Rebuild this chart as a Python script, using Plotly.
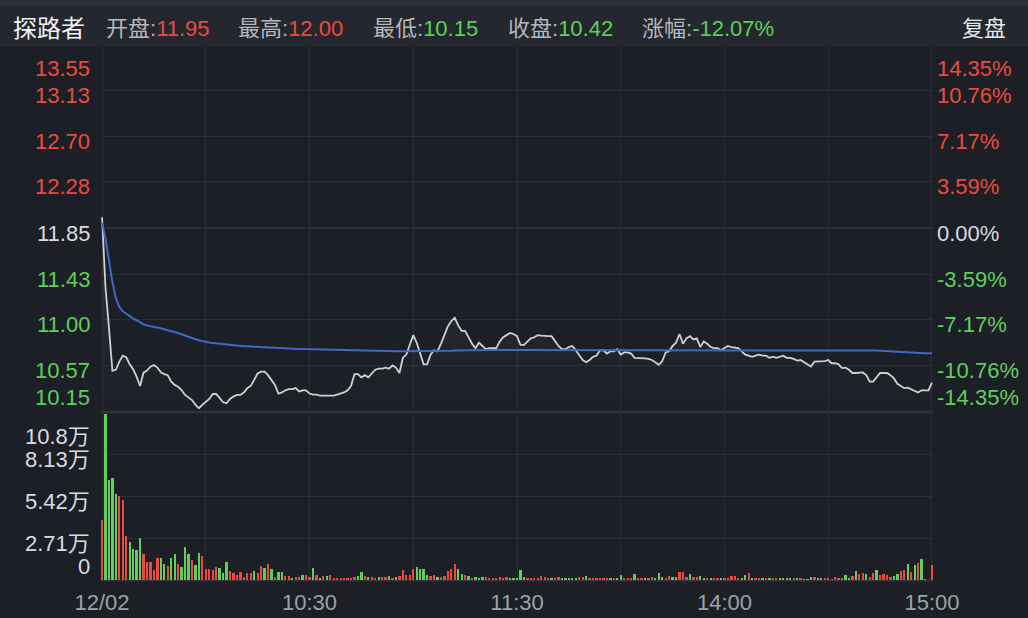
import plotly.graph_objects as go

W, H = 1028, 618

# ---------------- data ----------------
stock_name = "探路者"
prev_close = 11.85
open_p, high_p, low_p, close_p, chg_pct = "11.95", "12.00", "10.15", "10.42", "-12.07%"

price = [
    11.95, 11.30, 10.93, 10.53, 10.54, 10.615, 10.67, 10.655, 10.59, 10.544,
    10.476, 10.39, 10.513, 10.532, 10.569, 10.584, 10.56, 10.516, 10.50, 10.49,
    10.43, 10.40, 10.384, 10.353, 10.307, 10.285, 10.26, 10.218, 10.184, 10.215,
    10.24, 10.27, 10.316, 10.316, 10.28, 10.24, 10.23, 10.27, 10.292, 10.307,
    10.307, 10.329, 10.369, 10.39, 10.446, 10.507, 10.523, 10.523, 10.49, 10.45,
    10.40, 10.32, 10.33, 10.35, 10.36, 10.36, 10.37, 10.34, 10.35, 10.35,
    10.32, 10.31, 10.31, 10.30, 10.30, 10.30, 10.30, 10.30, 10.31, 10.32,
    10.33, 10.35, 10.39, 10.50, 10.50, 10.47, 10.49, 10.47, 10.51, 10.54,
    10.55, 10.55, 10.56, 10.55, 10.58, 10.56, 10.51, 10.65, 10.68, 10.78,
    10.86, 10.79, 10.70, 10.59, 10.59, 10.68, 10.72, 10.71, 10.78, 10.86,
    10.94, 10.99, 11.02, 10.95, 10.90, 10.90, 10.84, 10.78, 10.74, 10.79,
    10.76, 10.73, 10.74, 10.74, 10.74, 10.80, 10.84, 10.86, 10.88, 10.87,
    10.85, 10.77, 10.77, 10.80, 10.83, 10.84, 10.86, 10.855, 10.85, 10.85,
    10.85, 10.80, 10.76, 10.73, 10.73, 10.75, 10.76, 10.72, 10.67, 10.63,
    10.61, 10.63, 10.66, 10.67, 10.72, 10.72, 10.69, 10.71, 10.71, 10.73,
    10.68, 10.70, 10.70, 10.69, 10.65, 10.65, 10.65, 10.645, 10.64, 10.63,
    10.61, 10.585, 10.62, 10.70, 10.71, 10.76, 10.79, 10.87, 10.78, 10.83,
    10.85, 10.82, 10.83, 10.75, 10.80, 10.78, 10.75, 10.74, 10.74, 10.72,
    10.74, 10.76, 10.75, 10.745, 10.74, 10.71, 10.68, 10.67, 10.66, 10.67,
    10.68, 10.67, 10.67, 10.65, 10.66, 10.65, 10.66, 10.67, 10.65, 10.65,
    10.64, 10.625, 10.63, 10.61, 10.59, 10.57, 10.615, 10.615, 10.62, 10.62,
    10.63, 10.60, 10.60, 10.59, 10.555, 10.56, 10.54, 10.51, 10.51, 10.51,
    10.515, 10.49, 10.43, 10.43, 10.47, 10.51, 10.51, 10.51, 10.49, 10.46,
    10.41, 10.39, 10.37, 10.375, 10.36, 10.34, 10.33, 10.35, 10.35, 10.35,
    10.42,
]

avg_price = [
    11.90, 11.75, 11.55, 11.35, 11.20, 11.12, 11.08, 11.055, 11.035, 11.015,
    10.995, 10.975, 10.96, 10.95, 10.94, 10.935, 10.93, 10.922, 10.915, 10.908,
    10.90, 10.89, 10.88, 10.868, 10.855, 10.842, 10.832, 10.822, 10.812, 10.803,
    10.797, 10.792, 10.788, 10.784, 10.78, 10.776, 10.772, 10.769, 10.766, 10.763,
    10.760, 10.758, 10.756, 10.754, 10.752, 10.750, 10.748, 10.746, 10.744, 10.742,
    10.740, 10.738, 10.737, 10.736, 10.735, 10.734, 10.733, 10.732, 10.731, 10.730,
    10.729, 10.728, 10.727, 10.726, 10.725, 10.724, 10.723, 10.722, 10.721, 10.720,
    10.719, 10.718, 10.717, 10.716, 10.716, 10.715, 10.715, 10.714, 10.714, 10.713,
    10.713, 10.712, 10.712, 10.711, 10.711, 10.710, 10.710, 10.710, 10.710, 10.710,
    10.710, 10.711, 10.711, 10.711, 10.711, 10.711, 10.712, 10.712, 10.713, 10.714,
    10.715, 10.716, 10.718, 10.719, 10.720, 10.720, 10.721, 10.721, 10.721, 10.722,
    10.722, 10.722, 10.722, 10.722, 10.722, 10.722, 10.723, 10.723, 10.723, 10.723,
    10.723, 10.723, 10.723, 10.723, 10.723, 10.723, 10.723, 10.723, 10.723, 10.723,
    10.723, 10.723, 10.723, 10.723, 10.723, 10.723, 10.723, 10.723, 10.723, 10.723,
    10.723, 10.723, 10.723, 10.723, 10.723, 10.723, 10.723, 10.723, 10.723, 10.723,
    10.723, 10.723, 10.723, 10.723, 10.723, 10.723, 10.723, 10.723, 10.723, 10.723,
    10.723, 10.723, 10.723, 10.723, 10.723, 10.723, 10.723, 10.724, 10.724, 10.724,
    10.724, 10.724, 10.724, 10.724, 10.724, 10.724, 10.724, 10.724, 10.724, 10.724,
    10.724, 10.724, 10.724, 10.724, 10.724, 10.724, 10.724, 10.724, 10.724, 10.724,
    10.724, 10.724, 10.724, 10.724, 10.724, 10.724, 10.724, 10.724, 10.724, 10.724,
    10.724, 10.724, 10.724, 10.724, 10.724, 10.723, 10.723, 10.723, 10.723, 10.723,
    10.723, 10.723, 10.723, 10.723, 10.723, 10.722, 10.722, 10.722, 10.721, 10.721,
    10.720, 10.719, 10.718, 10.718, 10.717, 10.716, 10.715, 10.714, 10.713, 10.711,
    10.709, 10.707, 10.705, 10.703, 10.700, 10.698, 10.695, 10.694, 10.693, 10.693,
    10.692,
]

# volume in 万 (10k shares)
volume = [
    3.87, 10.70, 6.45, 6.58, 5.54, 5.40, 5.16, 2.82, 2.42, 2.02,
    1.94, 2.69, 1.67, 1.14, 1.14, 0.65, 1.40, 1.40, 1.02, 0.90,
    1.40, 1.68, 1.02, 0.81, 2.13, 1.67, 1.29, 0.99, 1.72, 1.55,
    0.69, 0.73, 0.65, 0.87, 0.75, 0.47, 1.14, 0.58, 0.47, 0.30,
    0.50, 0.22, 0.45, 0.48, 0.58, 0.43, 0.90, 0.75, 1.02, 0.70,
    0.22, 0.49, 0.49, 0.26, 0.26, 0.13, 0.19, 0.19, 0.30, 0.32,
    0.19, 0.75, 0.30, 0.13, 0.24, 0.26, 0.30, 0.13, 0.13, 0.13,
    0.13, 0.13, 0.13, 0.17, 0.28, 0.49, 0.24, 0.19, 0.17, 0.11,
    0.22, 0.22, 0.19, 0.24, 0.13, 0.19, 0.28, 0.62, 0.32, 0.32,
    0.71, 0.82, 0.69, 0.71, 0.34, 0.26, 0.32, 0.19, 0.19, 0.26,
    0.58, 0.71, 1.03, 0.71, 0.39, 0.30, 0.26, 0.15, 0.20, 0.15,
    0.19, 0.19, 0.065, 0.065, 0.13, 0.19, 0.065, 0.22, 0.15, 0.13,
    0.13, 0.65, 0.19, 0.13, 0.13, 0.11, 0.086, 0.24, 0.19, 0.11,
    0.065, 0.13, 0.19, 0.065, 0.086, 0.086, 0.086, 0.065, 0.19, 0.19,
    0.26, 0.13, 0.13, 0.13, 0.11, 0.086, 0.086, 0.13, 0.13, 0.065,
    0.32, 0.13, 0.065, 0.13, 0.41, 0.13, 0.13, 0.13, 0.065, 0.19,
    0.065, 0.45, 0.19, 0.13, 0.26, 0.19, 0.19, 0.49, 0.49, 0.19,
    0.37, 0.19, 0.19, 0.26, 0.13, 0.065, 0.11, 0.086, 0.065, 0.065,
    0.065, 0.065, 0.24, 0.28, 0.13, 0.13, 0.32, 0.43, 0.086, 0.13,
    0.11, 0.065, 0.13, 0.065, 0.086, 0.065, 0.065, 0.065, 0.065, 0.086,
    0.13, 0.065, 0.13, 0.04, 0.04, 0.19, 0.19, 0.13, 0.065, 0.11,
    0.065, 0.04, 0.19, 0.13, 0.065, 0.32, 0.065, 0.28, 0.58, 0.37,
    0.45, 0.37, 0.22, 0.45, 0.65, 0.34, 0.39, 0.34, 0.19, 0.26,
    0.39, 0.58, 0.65, 1.03, 0.54, 0.95, 1.10, 1.36, 0.02, 0.0,
    0.97,
]

# r = up (red), g = down (green)
vol_dir = (
    "rgggg" "rrrgg" "ggrrr" "rrggr" "ggrgg" "grggr"
    "rrrrg" "ggrrr" "rrrrg" "rrgrg" "rggrr" "grrgr"
    "rgrgr" "grrrr" "rrrrg" "grgrr" "grrgr" "grrrr"
    "rgggg" "rrgrr" "rrrgg" "rgrgg" "grrrr" "rrrgg"
    "gggrr" "rrrrr" "grrgg" "gggrr" "grrrr" "rrgrg"
    "grrrg" "rrgrr" "gggrr" "ggrrr" "grrgg" "rgrrg"
    "rrrrr" "ggrgr" "rgrgr" "rgggg" "rgrgg" "grggr"
    "rrrrr" "ggrgr" "rgrrg" "rrrrg" "grrgr" "grggr"
    "rrrrr" "gggrg" "ggrrr" "r"
)

# axis levels
pct_levels = [14.35, 10.76, 7.17, 3.59, 0.00, -3.59, -7.17, -10.76, -14.35]
price_labels = ["13.55", "13.13", "12.70", "12.28", "11.85", "11.43", "11.00", "10.57", "10.15"]
pct_labels = ["14.35%", "10.76%", "7.17%", "3.59%", "0.00%", "-3.59%", "-7.17%", "-10.76%", "-14.35%"]
vol_levels = [10.84, 8.13, 5.42, 2.71, 0]
vol_labels = ["10.8万", "8.13万", "5.42万", "2.71万", "0"]
time_ticks = [0, 30, 60, 90, 120, 150, 180, 210, 240]
time_labels = ["12/02", "", "10:30", "", "11:30", "", "14:00", "", "15:00"]

# ---------------- style ----------------
BG = "#1c1f26"
HEADER = "#24272e"
GRID = "#2a2d35"
BORDER = "#30333b"
RED = "#ec4a3e"
GREEN = "#5fcf5c"
WHITE = "#d9dbe0"
GRAYTXT = "#9da1a8"
FONT = "Liberation Sans, Noto Sans CJK SC, sans-serif"
FS = 22

def py(p):  # pixel row -> paper
    return (H - p) / H

def px(p):
    return p / W

n = len(price)
idx = list(range(n))
price_levels = [round(prev_close * (1 + v / 100), 4) for v in pct_levels]
p_top = price_levels[0]
p_bot = price_levels[-1]

fig = go.Figure()

fig.add_trace(go.Scatter(
    x=idx, y=price, mode="lines", xaxis="x", yaxis="y",
    line=dict(color="#cdd0d5", width=1.8),
    fill="tozeroy",
    fillgradient=dict(type="vertical", start=p_bot, stop=11.0,
                      colorscale=[[0, "rgba(255,255,255,0.0)"], [1, "rgba(255,255,255,0.035)"]]),
    hoverinfo="skip",
))
fig.add_trace(go.Scatter(
    x=idx, y=avg_price, mode="lines", xaxis="x", yaxis="y",
    line=dict(color="#3e69c6", width=2),
    hoverinfo="skip",
))
fig.add_trace(go.Bar(
    x=idx, y=volume, xaxis="x2", yaxis="y2",
    marker=dict(color=[RED if c == "r" else GREEN for c in vol_dir], line=dict(width=0)),
    width=0.66, hoverinfo="skip",
))

x_dom = [px(101), px(933)]
x_rng = [-0.3, 240.3]

fig.update_layout(
    width=W, height=H, autosize=False,
    margin=dict(l=0, r=0, t=0, b=0, pad=0, autoexpand=False),
    paper_bgcolor=BG, plot_bgcolor=BG,
    showlegend=False,
    font=dict(family=FONT, size=FS, color=WHITE),
    xaxis=dict(domain=x_dom, range=x_rng, anchor="y", tickvals=time_ticks, automargin=False,
               showticklabels=False, showgrid=True, gridcolor=GRID, gridwidth=1,
               zeroline=False, showline=False, fixedrange=True),
    xaxis2=dict(domain=x_dom, range=x_rng, anchor="y2", matches="x", tickvals=time_ticks,
                ticktext=time_labels, showticklabels=True, ticks="", automargin=False,
                ticklabelstandoff=7,
                tickfont=dict(size=FS, color=GRAYTXT, family=FONT),
                showgrid=True, gridcolor=GRID, gridwidth=1,
                zeroline=False, showline=False, fixedrange=True),
    yaxis=dict(domain=[py(412), py(44)], range=[p_bot, p_top], tickvals=price_levels,
               showticklabels=False, showgrid=True, gridcolor=GRID, gridwidth=1, automargin=False,
               zeroline=False, fixedrange=True),
    yaxis2=dict(domain=[py(580), py(412)], range=[0, vol_levels[0]], tickvals=vol_levels,
                showticklabels=False, showgrid=True, gridcolor=GRID, gridwidth=1, automargin=False,
                zeroline=False, fixedrange=True),
    bargap=0,
)

shapes = []
shapes.append(dict(type="rect", xref="paper", yref="paper", x0=0, x1=1, y0=py(47), y1=1,
                   fillcolor=HEADER, line=dict(width=0), layer="above"))
shapes.append(dict(type="rect", xref="paper", yref="paper", x0=0, x1=1, y0=py(7), y1=1,
                   fillcolor="#2b2e35", line=dict(width=0), layer="above"))
shapes.append(dict(type="line", xref="paper", yref="paper", x0=x_dom[0], x1=x_dom[1],
                   y0=py(412), y1=py(412), line=dict(color=BORDER, width=3), layer="below"))
shapes.append(dict(type="line", xref="paper", yref="paper", x0=x_dom[0], x1=x_dom[1],
                   y0=py(580.5), y1=py(580.5), line=dict(color=BORDER, width=2), layer="below"))
shapes.append(dict(type="line", xref="paper", yref="y", x0=x_dom[0], x1=x_dom[1],
                   y0=prev_close, y1=prev_close, line=dict(color="#31343c", width=2), layer="below"))
fig.update_layout(shapes=shapes)

ann = []

def level_color(v):
    if v > 0:
        return RED
    if v < 0:
        return GREEN
    return WHITE

for k, (lv, pl, pc, pv) in enumerate(zip(price_levels, price_labels, pct_labels, pct_levels)):
    shift = -5
    if k == 0:
        shift = -24
    elif k == len(price_levels) - 1:
        shift = 15
    col = level_color(pv)
    ann.append(dict(x=px(92), xref="paper", y=lv, yref="y", text=pl, showarrow=False,
                    xanchor="right", yanchor="middle", yshift=shift,
                    font=dict(color=col, size=FS, family=FONT)))
    ann.append(dict(x=px(935), xref="paper", y=lv, yref="y", text=pc, showarrow=False,
                    xanchor="left", yanchor="middle", yshift=shift,
                    font=dict(color=col, size=FS, family=FONT)))

for k, (lv, lt) in enumerate(zip(vol_levels, vol_labels)):
    shift = -5
    if k == 0:
        shift = -24
    elif k == len(vol_levels) - 1:
        shift = 14
    ann.append(dict(x=px(92), xref="paper", y=lv, yref="y2", text=lt, showarrow=False,
                    xanchor="right", yanchor="middle", yshift=shift,
                    font=dict(color=WHITE, size=FS, family=FONT)))

hy = py(28)
ann.append(dict(x=px(11), xref="paper", y=hy, yref="paper", text=stock_name, showarrow=False,
                xanchor="left", yanchor="middle", font=dict(color="#f2f3f5", size=24, family=FONT)))
header_items = [
    (104, "开盘:", open_p, RED),
    (236, "最高:", high_p, RED),
    (371, "最低:", low_p, GREEN),
    (506, "收盘:", close_p, GREEN),
    (640, "涨幅:", chg_pct, GREEN),
]
for xpos, lab, val, col in header_items:
    ann.append(dict(x=px(xpos), xref="paper", y=hy, yref="paper",
                    text=f"<span style='color:#b4b8bf'>{lab}</span><span style='color:{col}'>{val}</span>",
                    showarrow=False, xanchor="left", yanchor="middle",
                    font=dict(size=FS, family=FONT)))
ann.append(dict(x=px(1008), xref="paper", y=hy, yref="paper", text="复盘", showarrow=False,
                xanchor="right", yanchor="middle", font=dict(color="#e6e7ea", size=FS, family=FONT)))

fig.update_layout(annotations=ann)
fig.write_html("out.html", config={"responsive": False, "displayModeBar": False},
               post_script="document.body.style.margin='0px';document.body.style.overflow='hidden';document.body.style.background='#1c1f26';")
